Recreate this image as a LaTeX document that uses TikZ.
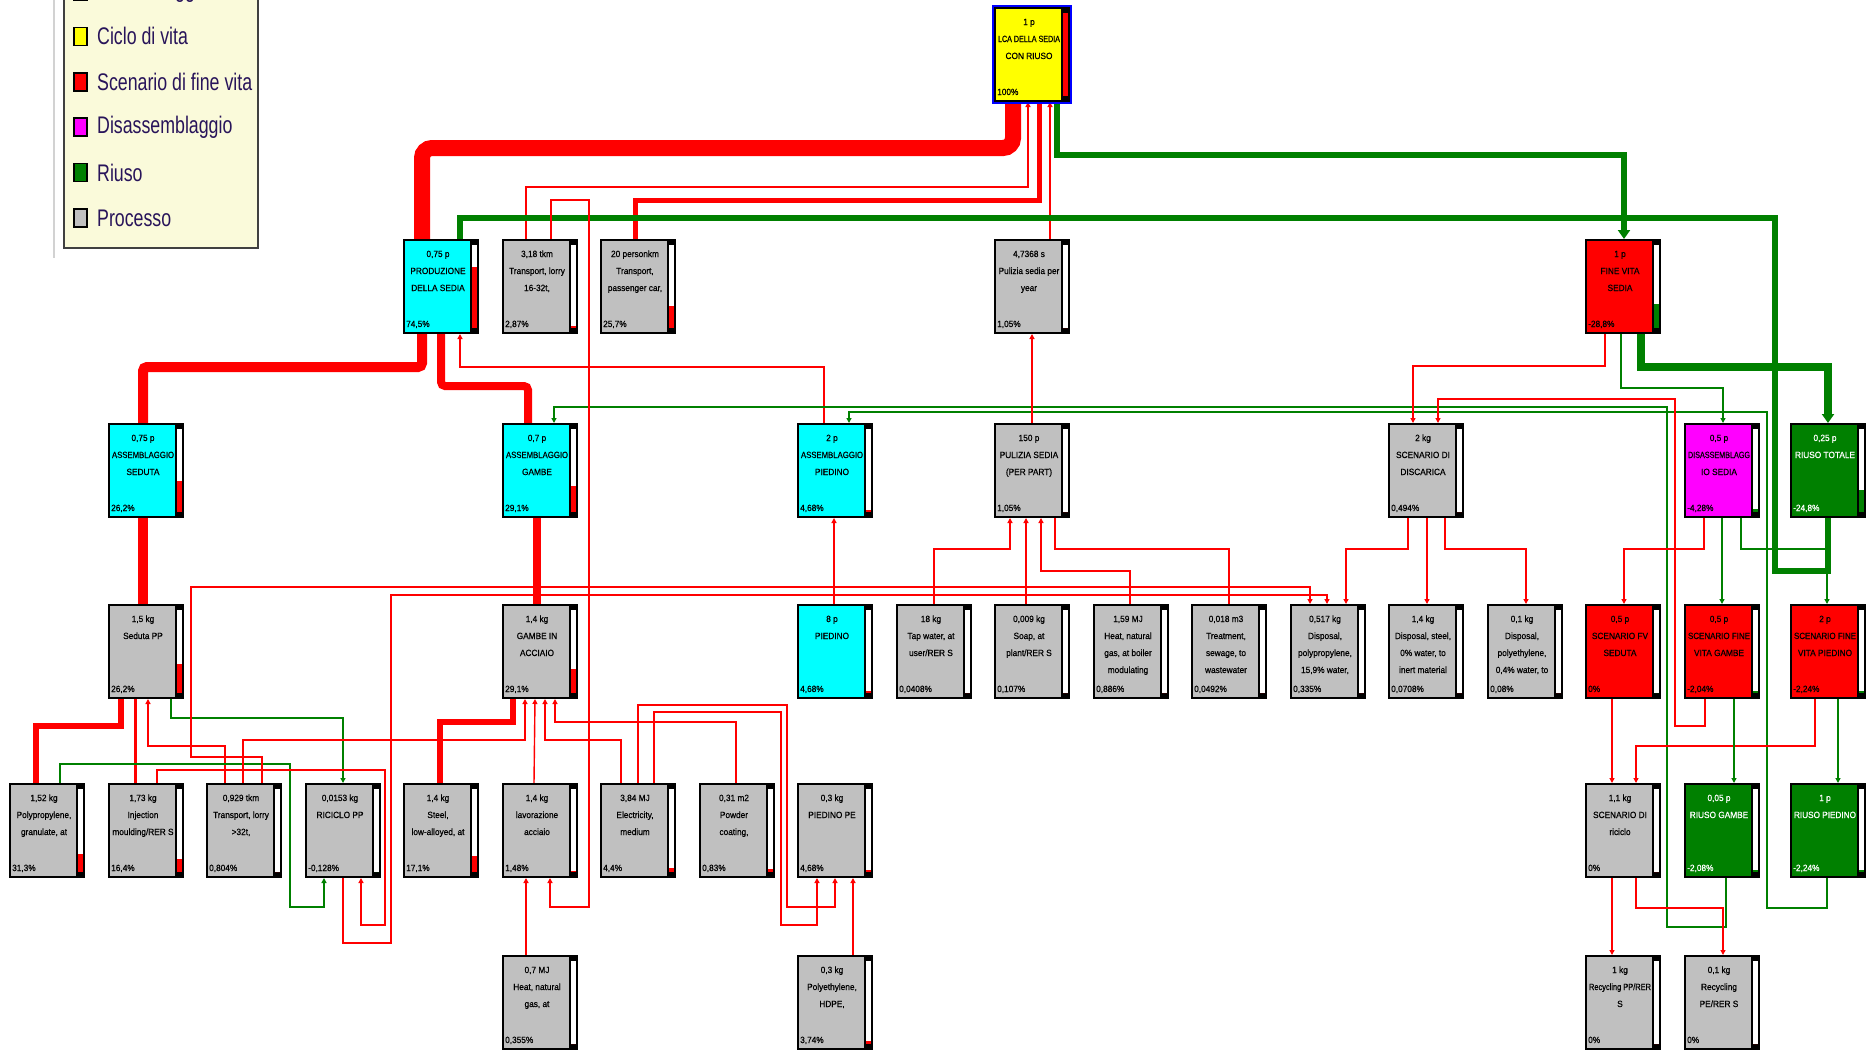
\documentclass[tikz,border=0pt]{standalone}
\usepackage{fontspec}
\usepackage{graphicx}
\setmainfont{Liberation Sans}
\newfontfamily\nodefont[FakeStretch=0.92,FakeBold=0.6]{Liberation Sans}
\newfontfamily\legfont[FakeStretch=0.74]{Liberation Sans}
\usetikzlibrary{arrows.meta}
\definecolor{lgreen}{RGB}{0,128,0}
\definecolor{ncyan}{RGB}{0,255,255}
\definecolor{ngray}{RGB}{192,192,192}
\definecolor{nyellow}{RGB}{255,255,0}
\definecolor{nred}{RGB}{255,0,0}
\definecolor{nmag}{RGB}{255,0,255}
\definecolor{ngreen}{RGB}{0,128,0}
\definecolor{legbg}{RGB}{250,250,218}
\definecolor{legtxt}{RGB}{40,20,90}
\newsavebox\lbox
\newdimen\lwd
\newcommand\fitline[1]{\sbox\lbox{#1}\lwd=\wd\lbox\relax
  \ifdim\lwd>62pt\relax\pgfmathsetmacro\rr{62/\lwd}\scalebox{\rr}[1]{\usebox\lbox}\else\usebox\lbox\fi}
\pgfdeclarelayer{bg}
\pgfsetlayers{bg,main}
\tikzset{
  pbox/.style={rectangle,anchor=north west,minimum width=76pt,minimum height=95pt,inner sep=0pt,outer sep=0pt},
  ntext/.style={anchor=base,inner sep=0pt,font=\nodefont\fontsize{9}{10}\selectfont},
  ptext/.style={anchor=base west,inner sep=0pt,font=\nodefont\fontsize{9}{10}\selectfont},
  rl/.style={draw=red,line width=1.4pt},
  gl/.style={draw=lgreen,line width=1.4pt},
  tip/.style={-{Triangle[length=5pt,width=5pt]}},
  bigtip/.style={-{Triangle[length=9pt,width=12pt]}},
  legsq/.style={draw=black,line width=1.5pt},
  legt/.style={anchor=west,inner sep=0pt,text=legtxt,font=\legfont\fontsize{24}{24}\selectfont},
}
\newcommand\pn[9]{%
  \node[pbox,fill=#4] (#1) at (#2,#3) {};
  \fill[black] (#2+67,#3) rectangle (#2+76,#3+95);
  \fill[white] (#2+69,#3+6) rectangle (#2+74,#3+89);
  \fill[#9] (#2+69,#3+89-83*#8) rectangle (#2+74,#3+89);
  \draw[line width=2pt] (#2+1,#3+1) rectangle (#2+75,#3+94);
  \foreach \l [count=\i] in {#6} {\node[ntext,text=#5] at (#2+35,#3+18+17*\i-17) {\fitline{\l}};}
  \node[ptext,text=#5] at (#2+3,#3+88) {#7};
}
\begin{document}
\begin{tikzpicture}[x=1pt,y=-1pt]
\useasboundingbox (0,0) rectangle (1872,1052);
% legend
\draw[gray!35,line width=2pt] (54,0) -- (54,258);
\fill[legbg] (64,-12) rectangle (258,248);
\draw[line width=2pt,draw=black!75] (64,-12) rectangle (258,248);
\foreach \c/\t [count=\k] in {ncyan/Assemblaggio,nyellow/Ciclo di vita,nred/Scenario di fine vita,nmag/Disassemblaggio,ngreen/Riuso,ngray/Processo}{
  \draw[legsq,fill=\c] (74,{-9+45.4*(\k-1)-9}) rectangle (87,{-9+45.4*(\k-1)+9});
  \node[legt] (leg\k) at (97,{-9+45.4*(\k-1)}) {\t};
}
% nodes
\draw[blue,line width=3pt] (993.5,6.5) rectangle (1070.5,102.5);
\pn{T}{994}{7}{nyellow}{black}{{1 p},{LCA DELLA SEDIA},{CON RIUSO}}{100\%}{1}{red}
\pn{PROD}{403}{239}{ncyan}{black}{{0,75 p},{PRODUZIONE},{DELLA SEDIA}}{74,5\%}{0.74}{red}
\pn{TR1}{502}{239}{ngray}{black}{{3,18 tkm},{Transport, lorry},{16-32t,}}{2,87\%}{0.03}{red}
\pn{CAR}{600}{239}{ngray}{black}{{20 personkm},{Transport,},{passenger car,}}{25,7\%}{0.26}{red}
\pn{PUL1}{994}{239}{ngray}{black}{{4,7368 s},{Pulizia sedia per},{year}}{1,05\%}{0}{red}
\pn{FV}{1585}{239}{nred}{black}{{1 p},{FINE VITA},{SEDIA}}{-28,8\%}{0.29}{lgreen}
\pn{ASED}{108}{423}{ncyan}{black}{{0,75 p},{ASSEMBLAGGIO},{SEDUTA}}{26,2\%}{0.37}{red}
\pn{AGAM}{502}{423}{ncyan}{black}{{0,7 p},{ASSEMBLAGGIO},{GAMBE}}{29,1\%}{0.31}{red}
\pn{APIS}{797}{423}{ncyan}{black}{{2 p},{ASSEMBLAGGIO},{PIEDINO}}{4,68\%}{0.03}{red}
\pn{PUL2}{994}{423}{ngray}{black}{{150 p},{PULIZIA SEDIA},{(PER PART)}}{1,05\%}{0}{red}
\pn{DISC}{1388}{423}{ngray}{black}{{2 kg},{SCENARIO DI},{DISCARICA}}{0,494\%}{0}{red}
\pn{DIS}{1684}{423}{nmag}{black}{{0,5 p},{DISASSEMBLAGG},{IO SEDIA}}{-4,28\%}{0.04}{lgreen}
\pn{RT}{1790}{423}{ngreen}{white}{{0,25 p},{RIUSO TOTALE}}{-24,8\%}{0.27}{lgreen}
\pn{SPP}{108}{604}{ngray}{black}{{1,5 kg},{Seduta PP}}{26,2\%}{0.35}{red}
\pn{GAC}{502}{604}{ngray}{black}{{1,4 kg},{GAMBE IN},{ACCIAIO}}{29,1\%}{0.29}{red}
\pn{PIED}{797}{604}{ncyan}{black}{{8 p},{PIEDINO}}{4,68\%}{0.03}{red}
\pn{TAP}{896}{604}{ngray}{black}{{18 kg},{Tap water, at},{user/RER S}}{0,0408\%}{0}{red}
\pn{SOAP}{994}{604}{ngray}{black}{{0,009 kg},{Soap, at},{plant/RER S}}{0,107\%}{0}{red}
\pn{HEAT1}{1093}{604}{ngray}{black}{{1,59 MJ},{Heat, natural},{gas, at boiler},{modulating}}{0,886\%}{0}{red}
\pn{TREAT}{1191}{604}{ngray}{black}{{0,018 m3},{Treatment,},{sewage, to},{wastewater}}{0,0492\%}{0}{red}
\pn{DPP}{1290}{604}{ngray}{black}{{0,517 kg},{Disposal,},{polypropylene,},{15,9\% water,}}{0,335\%}{0}{red}
\pn{DST}{1388}{604}{ngray}{black}{{1,4 kg},{Disposal, steel,},{0\% water, to},{inert material}}{0,0708\%}{0}{red}
\pn{DPE}{1487}{604}{ngray}{black}{{0,1 kg},{Disposal,},{polyethylene,},{0,4\% water, to}}{0,08\%}{0}{red}
\pn{SFVS}{1585}{604}{nred}{black}{{0,5 p},{SCENARIO FV},{SEDUTA}}{0\%}{0}{lgreen}
\pn{SFVG}{1684}{604}{nred}{black}{{0,5 p},{SCENARIO FINE},{VITA GAMBE}}{-2,04\%}{0.03}{lgreen}
\pn{SFVP}{1790}{604}{nred}{black}{{2 p},{SCENARIO FINE},{VITA PIEDINO}}{-2,24\%}{0.03}{lgreen}
\pn{PPG}{9}{783}{ngray}{black}{{1,52 kg},{Polypropylene,},{granulate, at}}{31,3\%}{0.22}{red}
\pn{INJ}{108}{783}{ngray}{black}{{1,73 kg},{Injection},{moulding/RER S}}{16,4\%}{0.16}{red}
\pn{TR2}{206}{783}{ngray}{black}{{0,929 tkm},{Transport, lorry},{>32t,}}{0,804\%}{0}{red}
\pn{RPP}{305}{783}{ngray}{black}{{0,0153 kg},{RICICLO PP}}{-0,128\%}{0}{lgreen}
\pn{STEEL}{403}{783}{ngray}{black}{{1,4 kg},{Steel,},{low-alloyed, at}}{17,1\%}{0.19}{red}
\pn{LAV}{502}{783}{ngray}{black}{{1,4 kg},{lavorazione},{acciaio}}{1,48\%}{0.01}{red}
\pn{ELEC}{600}{783}{ngray}{black}{{3,84 MJ},{Electricity,},{medium}}{4,4\%}{0.05}{red}
\pn{POW}{699}{783}{ngray}{black}{{0,31 m2},{Powder},{coating,}}{0,83\%}{0.04}{red}
\pn{PPE}{797}{783}{ngray}{black}{{0,3 kg},{PIEDINO PE}}{4,68\%}{0.03}{red}
\pn{RIC}{1585}{783}{ngray}{black}{{1,1 kg},{SCENARIO DI},{riciclo}}{0\%}{0}{red}
\pn{RGAM}{1684}{783}{ngreen}{white}{{0,05 p},{RIUSO GAMBE}}{-2,08\%}{0.03}{lgreen}
\pn{RPIED}{1790}{783}{ngreen}{white}{{1 p},{RIUSO PIEDINO}}{-2,24\%}{0.03}{lgreen}
\pn{HEAT2}{502}{955}{ngray}{black}{{0,7 MJ},{Heat, natural},{gas, at}}{0,355\%}{0}{red}
\pn{HDPE}{797}{955}{ngray}{black}{{0,3 kg},{Polyethylene,},{HDPE,}}{3,74\%}{0.04}{red}
\pn{RPP2}{1585}{955}{ngray}{black}{{1 kg},{Recycling PP/RER},{S}}{0\%}{0}{red}
\pn{RPE}{1684}{955}{ngray}{black}{{0,1 kg},{Recycling},{PE/RER S}}{0\%}{0}{red}
% connectors
\begin{pgfonlayer}{bg}
\draw[rl,line width=16pt,rounded corners=10pt] ([xshift=19]PROD.north west) |- (1013,148) -- ([xshift=19]T.south west);
\draw[rl,tip] ([xshift=24]TR1.north west) |- (1028,187) -- ([xshift=34]T.south west);
\draw[rl,line width=5pt] ([xshift=35]CAR.north west) |- (1039,200) -- ([xshift=45]T.south west);
\draw[rl,tip] ([xshift=56]PUL1.north west) -- ([xshift=56]T.south west);
\draw[gl,line width=6pt,bigtip] ([xshift=63]T.south west) |- (1624,155) -- ([xshift=39]FV.north west);
\draw[rl,line width=10pt,rounded corners=4pt] ([xshift=35]ASED.north west) |- (422,367) -- ([xshift=19]PROD.south west);
\draw[rl,line width=8pt,rounded corners=4pt] ([xshift=26]AGAM.north west) |- (441,386) -- ([xshift=38]PROD.south west);
\draw[rl,tip] ([xshift=27]APIS.north west) |- (460,367) -- ([xshift=57]PROD.south west);
\draw[gl,line width=6pt] ([xshift=38]RT.south west) -- (1828,571) -| (1775,218) -| ([xshift=57]PROD.north west);
\draw[gl,tip] ([xshift=42]RGAM.south west) |- (1667,927) -- (1667,407) -| ([xshift=52]AGAM.north west);
\draw[gl,tip] ([xshift=37]RPIED.south west) |- (1767,908) -- (1767,412) -| ([xshift=52]APIS.north west);
\draw[rl,tip] ([xshift=20]FV.south west) |- (1413,366) -- ([xshift=25]DISC.north west);
\draw[gl,tip] ([xshift=36]FV.south west) |- (1723,388) -- ([xshift=39]DIS.north west);
\draw[gl,line width=8pt,bigtip] ([xshift=56]FV.south west) |- (1828,367) -- ([xshift=38]RT.north west);
\draw[rl,tip] ([xshift=21]SFVG.south west) |- (1675,726) -- (1675,399) -| ([xshift=50]DISC.north west);
\draw[rl,line width=10pt] ([xshift=35]SPP.north west) -- ([xshift=35]ASED.south west);
\draw[rl,line width=8pt] ([xshift=35]GAC.north west) -- ([xshift=35]AGAM.south west);
\draw[rl,tip] ([xshift=37]PIED.north west) -- ([xshift=37]APIS.south west);
\draw[rl,tip] ([xshift=38]PUL2.north west) -- ([xshift=38]PUL1.south west);
\draw[rl,tip] ([xshift=38]TAP.north west) |- (1010,549) -- ([xshift=16]PUL2.south west);
\draw[rl,tip] ([xshift=32]SOAP.north west) -- ([xshift=32]PUL2.south west);
\draw[rl,tip] ([xshift=37]HEAT1.north west) |- (1041,571) -- ([xshift=47]PUL2.south west);
\draw[rl] ([xshift=38]TREAT.north west) |- (1055,549) -- ([xshift=61]PUL2.south west);
\draw[rl,tip] ([xshift=20]DISC.south west) |- (1346,549) -- ([xshift=56]DPP.north west);
\draw[rl,tip] ([xshift=39]DISC.south west) -- ([xshift=39]DST.north west);
\draw[rl,tip] ([xshift=57]DISC.south west) |- (1526,549) -- ([xshift=39]DPE.north west);
\draw[rl,tip] ([xshift=20]DIS.south west) |- (1624,549) -- ([xshift=39]SFVS.north west);
\draw[gl,tip] ([xshift=38]DIS.south west) -- ([xshift=38]SFVG.north west);
\draw[gl,tip] ([xshift=57]DIS.south west) |- (1827,549) -- ([xshift=37]SFVP.north west);
\draw[rl,tip] ([xshift=27]SFVS.south west) -- ([xshift=27]RIC.north west);
\draw[rl,tip] ([xshift=25]SFVP.south west) |- (1636,746) -- ([xshift=51]RIC.north west);
\draw[gl,tip] ([xshift=50]SFVG.south west) -- ([xshift=50]RGAM.north west);
\draw[gl,tip] ([xshift=48]SFVP.south west) -- ([xshift=48]RPIED.north west);
\draw[rl,tip] ([xshift=27]RIC.south west) -- ([xshift=27]RPP2.north west);
\draw[rl,tip] ([xshift=51]RIC.south west) |- (1723,908) -- ([xshift=39]RPE.north west);
\draw[rl,line width=6pt] ([xshift=27]PPG.north west) |- (121,726) -- ([xshift=13]SPP.south west);
\draw[rl,line width=3pt] ([xshift=27]INJ.north west) -- ([xshift=27]SPP.south west);
\draw[rl,tip] ([xshift=19]TR2.north west) |- (148,746) -- ([xshift=40]SPP.south west);
\draw[gl,tip] ([xshift=63]SPP.south west) |- (343,718) -- ([xshift=38]RPP.north west);
\draw[gl,tip] ([xshift=51]PPG.north west) |- (290,764) -- (290,907) -| ([xshift=19]RPP.south west);
\draw[rl,line width=6pt] ([xshift=37]STEEL.north west) |- (513,722) -- ([xshift=11]GAC.south west);
\draw[rl,tip] ([xshift=37]TR2.north west) |- (525,740) -- ([xshift=23]GAC.south west);
\draw[rl,tip] ([xshift=32]LAV.north west) -- ([xshift=33]GAC.south west);
\draw[rl,tip] ([xshift=21]ELEC.north west) |- (545,740) -- ([xshift=43]GAC.south west);
\draw[rl,tip] ([xshift=37]POW.north west) |- (555,722) -- ([xshift=53]GAC.south west);
\draw[rl,tip] ([xshift=24]HEAT2.north west) -- ([xshift=24]LAV.south west);
\draw[rl,tip] ([xshift=49]TR1.north west) |- (589,200) -- (589,907) -| ([xshift=48]LAV.south west);
\draw[rl,tip] ([xshift=56]HDPE.north west) -- ([xshift=56]PPE.south west);
% waste / secondary lines (left)
\draw[rl,tip] ([xshift=56]TR2.north west) |- (191,757) -- (191,587) -| ([xshift=20]DPP.north west);
\draw[rl,tip] ([xshift=38]RPP.south west) |- (391,943) -- (391,595) -| ([xshift=37]DPP.north west);
\draw[rl,tip] ([xshift=49]INJ.north west) |- (385,770) -- (385,925) -| ([xshift=56]RPP.south west);
\draw[rl,tip] ([xshift=54]ELEC.north west) |- (781,712) -- (781,925) -| ([xshift=20]PPE.south west);
\draw[rl,tip] ([xshift=38]ELEC.north west) |- (787,705) -- (787,907) -| ([xshift=38]PPE.south west);
\end{pgfonlayer}
\end{tikzpicture}
\end{document}
